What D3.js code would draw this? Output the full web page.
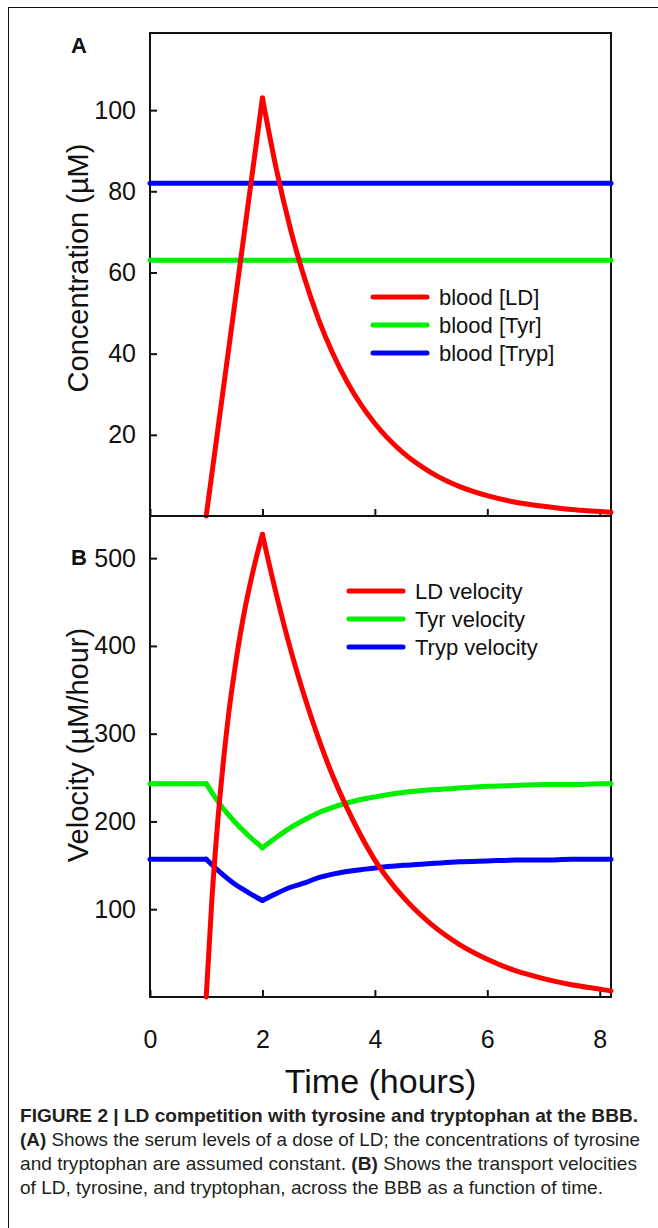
<!DOCTYPE html>
<html>
<head>
<meta charset="utf-8">
<script src="https://cdn.jsdelivr.net/npm/d3@7"></script>
<style>
body { margin: 0; background: #fff; }
svg text { font-family: "Liberation Sans", Arial, sans-serif; fill: #111; }
.caption text { font-family: "Liberation Sans Narrow", "Liberation Sans", Arial, sans-serif; fill: #231f20; }
</style>
</head>
<body>
<div id="fig"></div>
<script>
// panel A : blood levels (uM)
var hoursBlood = [0, 8.2];
var bloodTyr = [63, 63];
var bloodTryp = [82, 82];
var hoursBloodLD = [1, 2, 2.25, 2.5, 2.75, 3, 3.25, 3.5, 3.75, 4, 4.5, 5, 5.5, 6, 6.5, 7, 7.5, 8, 8.2];
var bloodLD = [0, 103, 85.3, 70.6, 58.5, 48.4, 40.1, 33.2, 27.5, 22.8, 15.6, 10.7, 7.3, 5.0, 3.4, 2.4, 1.6, 1.1, 0.9];

// panel B : transport velocities (uM/hour)
var hoursVel = [0, 1, 1.25, 1.5, 1.75, 2, 2.25, 2.5, 2.75, 3, 3.25, 3.5, 3.75, 4, 4.5, 5, 5.5, 6, 6.5, 7, 7.5, 8, 8.2];
var tyrVel = [243, 243, 219, 200, 184, 170, 182, 193, 202, 210, 216, 221, 225, 228, 233, 236, 238, 240, 241, 242, 242, 243, 243];
var trypVel = [157, 157, 142, 129, 119, 110, 118, 125, 130, 136, 140, 143, 145, 147, 150, 152, 154, 155, 156, 156, 157, 157, 157];
var hoursLDVel = [1, 1.1, 1.2, 1.3, 1.4, 1.5, 1.6, 1.7, 1.8, 1.9, 2, 2.25, 2.5, 2.75, 3, 3.25, 3.5, 3.75, 4, 4.5, 5, 5.5, 6, 6.5, 7, 7.5, 8, 8.2];
var ldVel = [0, 110, 196, 265, 323, 370, 411, 446, 476, 503, 527, 458, 396, 342, 294, 252, 216, 184, 156, 114, 83, 60, 43, 30, 21, 14, 9, 7];

var xTicks = [0, 2, 4, 6, 8];
var yTicksA = [20, 40, 60, 80, 100];
var yTicksB = [100, 200, 300, 400, 500];
var legendA = ["blood [LD]", "blood [Tyr]", "blood [Tryp]"];
var legendB = ["LD velocity", "Tyr velocity", "Tryp velocity"];
var COLORS = ["#ff0000", "#00ee00", "#0000ff"];

var W = 658, H = 1228;
var LEFT = 150, RIGHT = 611;
var A_TOP = 33, A_BOT = 516, B_BOT = 997;

var svg = d3.select('#fig').append('svg').attr('width', W).attr('height', H);
svg.append('rect').attr('width', W).attr('height', H).attr('fill', '#fff');
// outer figure frame (runs off right / bottom edge)
svg.append('rect').attr('x', 8.5).attr('y', 7.5).attr('width', W + 20).attr('height', H + 20)
    .attr('fill', 'none').attr('stroke', '#111').attr('stroke-width', 1);

var x = d3.scaleLinear().domain([0, 8.2]).range([LEFT, RIGHT]);
var yA = d3.scaleLinear().domain([0, 119]).range([A_BOT, A_TOP]);
var yB = d3.scaleLinear().domain([0, 548]).range([B_BOT, A_BOT]);

// split a series into pieces at corner points so the smooth curve keeps the kinks
function pieces(xs, ys, kinks) {
    var out = [], cur = [];
    for (var i = 0; i < xs.length; i++) {
        cur.push([xs[i], ys[i]]);
        if (kinks.indexOf(xs[i]) >= 0 && i > 0 && i < xs.length - 1) {
            out.push(cur);
            cur = [[xs[i], ys[i]]];
        }
    }
    out.push(cur);
    return out;
}

function drawPanel(y, yTicks, top, bot, series, legend, lx, ly, title, titleY, letter, letterY) {
    var g = svg.append('g');
    g.append('rect').attr('x', LEFT).attr('y', top).attr('width', RIGHT - LEFT).attr('height', bot - top)
        .attr('fill', 'none').attr('stroke', '#111').attr('stroke-width', 2);

    var ya = g.append('g').attr('transform', 'translate(' + LEFT + ',0)')
        .call(d3.axisLeft(y).tickValues(yTicks).tickSizeInner(-7).tickSizeOuter(0).tickPadding(14));
    ya.select('.domain').remove();
    ya.selectAll('line').attr('stroke', '#111').attr('stroke-width', 2);
    ya.selectAll('text').style('font-size', '25px').attr('fill', '#111');

    var xa = g.append('g').attr('transform', 'translate(0,' + bot + ')')
        .call(d3.axisBottom(x).tickValues(xTicks).tickSizeInner(-7).tickSizeOuter(0).tickPadding(33));
    xa.select('.domain').remove();
    xa.selectAll('line').attr('stroke', '#111').attr('stroke-width', 2);
    xa.selectAll('text').style('font-size', '25px').attr('fill', '#111');
    if (bot == A_BOT) xa.selectAll('text').remove();

    var line = d3.line().x(function(d){return x(d[0])}).y(function(d){return y(d[1])}).curve(d3.curveMonotoneX);
    series.forEach(function(s, i){
        pieces(s.xs, s.ys, s.kinks).forEach(function(p){
            g.append('path').attr('d', line(p)).attr('fill', 'none')
                .attr('stroke', s.color).attr('stroke-width', 5)
                .attr('stroke-linecap', 'round').attr('stroke-linejoin', 'round');
        });
    });

    var lg = g.append('g').selectAll('g').data(legend).enter().append('g')
        .attr('transform', function(d, i){ return 'translate(' + lx + ',' + (ly + i * 28) + ')'; });
    lg.append('line').attr('x1', 0).attr('x2', 54).attr('y1', 0).attr('y2', 0)
        .attr('stroke', function(d, i){return COLORS[i]}).attr('stroke-width', 5).attr('stroke-linecap', 'round');
    lg.append('text').attr('x', 66).attr('y', 8).style('font-size', '22px').text(function(d){return d;});

    g.append('text').attr('transform', 'translate(88,' + titleY + ') rotate(-90)')
        .attr('text-anchor', 'middle').style('font-size', '29px').text(title);

    g.append('text').attr('x', 71).attr('y', letterY).style('font-size', '22px').style('font-weight', 'bold').text(letter);
}

drawPanel(yA, yTicksA, A_TOP, A_BOT, [
    {xs: hoursBlood, ys: bloodTyr, color: COLORS[1], kinks: []},
    {xs: hoursBlood, ys: bloodTryp, color: COLORS[2], kinks: []},
    {xs: hoursBloodLD, ys: bloodLD, color: COLORS[0], kinks: [2]}
], legendA, 373, 297, 'Concentration (\u00b5M)', 268, 'A', 53);

drawPanel(yB, yTicksB, A_BOT, B_BOT, [
    {xs: hoursVel, ys: tyrVel, color: COLORS[1], kinks: [1, 2]},
    {xs: hoursVel, ys: trypVel, color: COLORS[2], kinks: [1, 2]},
    {xs: hoursLDVel, ys: ldVel, color: COLORS[0], kinks: [2]}
], legendB, 349, 591, 'Velocity (\u00b5M/hour)', 745, 'B', 565);

svg.append('text').attr('x', (LEFT + RIGHT) / 2).attr('y', 1093).attr('text-anchor', 'middle')
    .style('font-size', '34px').text('Time (hours)');

// caption
var cap = svg.append('g').attr('class', 'caption');
var capLines = [
    {y: 1122, len: 618, parts: [["FIGURE 2 | LD competition with tyrosine and tryptophan at the BBB.", true]]},
    {y: 1146, len: 620, parts: [["(A)", true], [" Shows the serum levels of a dose of LD; the concentrations of tyrosine", false]]},
    {y: 1170, len: 617, parts: [["and tryptophan are assumed constant. ", false], ["(B)", true], [" Shows the transport velocities", false]]},
    {y: 1194, len: 583, parts: [["of LD, tyrosine, and tryptophan, across the BBB as a function of time.", false]]}
];
capLines.forEach(function(l){
    var t = cap.append('text').attr('x', 20).attr('y', l.y).style('font-size', '18.5px')
        .attr('textLength', l.len).attr('lengthAdjust', 'spacingAndGlyphs');
    l.parts.forEach(function(p){
        t.append('tspan').style('font-weight', p[1] ? 'bold' : 'normal').text(p[0]);
    });
});
</script>
</body>
</html>
